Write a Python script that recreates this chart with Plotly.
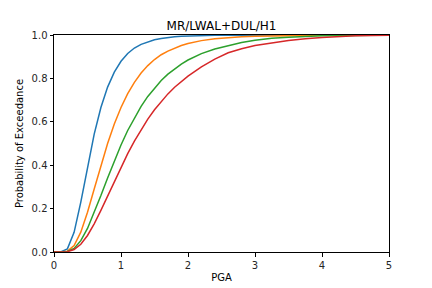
import plotly.graph_objects as go

pga = [0.0, 0.1, 0.2, 0.3, 0.4, 0.5, 0.6, 0.7, 0.8, 0.9, 1.0, 1.1, 1.2, 1.3, 1.4, 1.5,
       1.6, 1.7, 1.8, 1.9, 2.0, 2.2, 2.4, 2.6, 2.8, 3.0, 3.25, 3.5, 3.75, 4.0, 4.5, 5.0]

ds1 = [0.0, 0.0001, 0.0146, 0.0906, 0.230, 0.392, 0.543, 0.666, 0.760, 0.829, 0.879, 0.915,
       0.940, 0.957, 0.969, 0.978, 0.984, 0.9886, 0.9917, 0.9939, 0.9955, 0.9976, 0.9986,
       0.9992, 0.9995, 0.9997, 0.9998, 0.9999, 0.9999, 1.0, 1.0, 1.0]
ds2 = [0.0, 0.00003, 0.0038, 0.0296, 0.0913, 0.183, 0.290, 0.399, 0.500, 0.590, 0.666, 0.730,
       0.782, 0.825, 0.859, 0.887, 0.909, 0.926, 0.9406, 0.9519, 0.961, 0.9741, 0.9827,
       0.9883, 0.9920, 0.9945, 0.9965, 0.9977, 0.9985, 0.9990, 0.9996, 0.9998]
ds3 = [0.0, 0.00002, 0.0022, 0.0166, 0.0521, 0.1087, 0.1804, 0.260, 0.341, 0.420, 0.493, 0.560,
       0.619, 0.671, 0.717, 0.756, 0.790, 0.8195, 0.8447, 0.8662, 0.8847, 0.914, 0.9356,
       0.9514, 0.9650, 0.9760, 0.9850, 0.9900, 0.9940, 0.9960, 0.9980, 0.9995]
ds4 = [0.0, 0.00002, 0.0015, 0.0112, 0.0357, 0.0762, 0.1298, 0.192, 0.2586, 0.3258, 0.3913,
       0.4534, 0.5112, 0.5641, 0.6122, 0.6554, 0.6941, 0.7286, 0.7592, 0.7864, 0.8104,
       0.853, 0.889, 0.918, 0.937, 0.952, 0.965, 0.975, 0.983, 0.989, 0.996, 0.999]

series = [ds1, ds2, ds3, ds4]
colors = ["#1f77b4", "#ff7f0e", "#2ca02c", "#d62728"]

x_ticks = [0, 1, 2, 3, 4, 5]
y_ticks = [0.0, 0.2, 0.4, 0.6, 0.8, 1.0]

fig = go.Figure()
for ys, c in zip(series, colors):
    fig.add_trace(go.Scatter(x=pga, y=ys, mode="lines",
                             line=dict(color=c, width=1.5), showlegend=False))

axis_common = dict(showline=True, linecolor="black", linewidth=1, mirror=True,
                   ticks="outside", ticklen=3.5, tickwidth=0.8, tickcolor="black",
                   showgrid=False, zeroline=False, automargin=False,
                   tickfont=dict(family="DejaVu Sans", size=10, color="#262626"))

fig.update_layout(
    width=432, height=288,
    margin=dict(l=54, r=43, t=35, b=36),
    paper_bgcolor="white", plot_bgcolor="white",
    font=dict(family="DejaVu Sans", size=10, color="black"),
    title=dict(text="MR/LWAL+DUL/H1", x=0.5, xref="paper", xanchor="center",
               y=1, yref="paper", yanchor="bottom", pad=dict(b=5),
               font=dict(family="DejaVu Sans", size=12, color="black")),
    xaxis=dict(range=[0, 5], tickvals=x_ticks, ticktext=[str(v) for v in x_ticks],
               title=dict(text="PGA", standoff=4,
                          font=dict(family="DejaVu Sans", size=10, color="black")),
               **axis_common),
    yaxis=dict(range=[0, 1], tickvals=y_ticks, ticktext=[f"{v:.1f}" for v in y_ticks],
               title=dict(text="Probability of Exceedance", standoff=6,
                          font=dict(family="DejaVu Sans", size=10, color="black")),
               **axis_common),
)

fig.write_html("out.html")
